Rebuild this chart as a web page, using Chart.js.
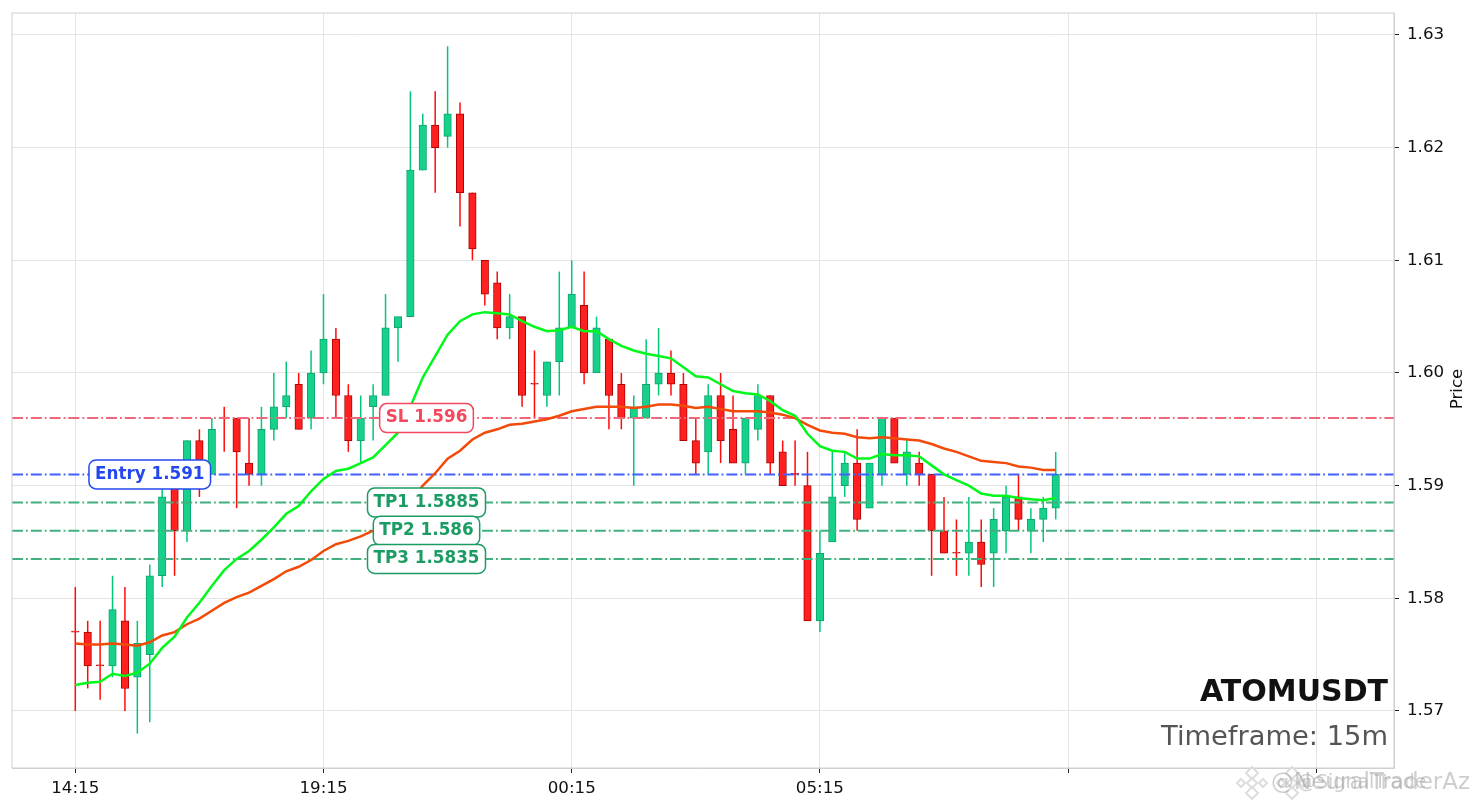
<!DOCTYPE html>
<html>
<head>
<meta charset="utf-8">
<title>ATOMUSDT</title>
<script src="https://cdn.jsdelivr.net/npm/chart.js@4"></script>
<style>
    html, body { margin: 0; padding: 0; background: #fff; }
    #contenedor { width: 1479px; height: 808px; }
</style>
</head>
<body>
<div id="contenedor"><canvas id="grafico"></canvas></div>
<script>
//Datos de las velas (una posicion por vela de 15m)
var opens = [1.577, 1.577, 1.574, 1.574, 1.578, 1.573, 1.575, 1.582, 1.591, 1.586,
    1.594, 1.591, 1.596, 1.596, 1.592, 1.591, 1.595, 1.597, 1.599, 1.596,
    1.600, 1.603, 1.598, 1.594, 1.597, 1.598, 1.604, 1.605, 1.618, 1.622,
    1.621, 1.623, 1.616, 1.610, 1.608, 1.604, 1.605, 1.599, 1.598, 1.601,
    1.604, 1.606, 1.600, 1.603, 1.599, 1.596, 1.596, 1.599, 1.600, 1.599,
    1.594, 1.593, 1.598, 1.595, 1.592, 1.595, 1.598, 1.593, 1.591, 1.590,
    1.578, 1.585, 1.590, 1.592, 1.588, 1.591, 1.596, 1.591, 1.592, 1.591,
    1.586, 1.584, 1.584, 1.585, 1.584, 1.586, 1.589, 1.586, 1.587, 1.588];
var closes = [1.577, 1.574, 1.574, 1.579, 1.572, 1.576, 1.582, 1.589, 1.586, 1.594,
    1.591, 1.595, 1.596, 1.593, 1.591, 1.595, 1.597, 1.598, 1.595, 1.600,
    1.603, 1.598, 1.594, 1.596, 1.598, 1.604, 1.605, 1.618, 1.622, 1.620,
    1.623, 1.616, 1.611, 1.607, 1.604, 1.605, 1.598, 1.599, 1.601, 1.604,
    1.607, 1.600, 1.604, 1.598, 1.596, 1.597, 1.599, 1.600, 1.599, 1.594,
    1.592, 1.598, 1.594, 1.592, 1.596, 1.598, 1.592, 1.590, 1.591, 1.578,
    1.584, 1.589, 1.592, 1.587, 1.592, 1.596, 1.592, 1.593, 1.591, 1.586,
    1.584, 1.584, 1.585, 1.583, 1.587, 1.589, 1.587, 1.587, 1.588, 1.591];
var highs = [1.581, 1.578, 1.578, 1.582, 1.581, 1.578, 1.583, 1.590, 1.591, 1.594,
    1.595, 1.596, 1.597, 1.596, 1.596, 1.597, 1.600, 1.601, 1.600, 1.602,
    1.607, 1.604, 1.599, 1.598, 1.599, 1.607, 1.605, 1.625, 1.623, 1.625,
    1.629, 1.624, 1.616, 1.610, 1.609, 1.607, 1.605, 1.602, 1.601, 1.609,
    1.610, 1.609, 1.605, 1.603, 1.600, 1.598, 1.603, 1.604, 1.602, 1.600,
    1.596, 1.599, 1.600, 1.598, 1.596, 1.599, 1.598, 1.594, 1.594, 1.593,
    1.586, 1.593, 1.593, 1.595, 1.592, 1.596, 1.596, 1.594, 1.593, 1.591,
    1.589, 1.587, 1.589, 1.587, 1.588, 1.590, 1.591, 1.588, 1.589, 1.593];
var lows = [1.570, 1.572, 1.571, 1.573, 1.570, 1.568, 1.569, 1.581, 1.582, 1.585,
    1.589, 1.591, 1.593, 1.588, 1.590, 1.590, 1.594, 1.596, 1.595, 1.595,
    1.599, 1.596, 1.593, 1.592, 1.594, 1.598, 1.601, 1.605, 1.618, 1.616,
    1.620, 1.613, 1.610, 1.606, 1.603, 1.603, 1.597, 1.596, 1.597, 1.598,
    1.604, 1.599, 1.600, 1.595, 1.595, 1.590, 1.596, 1.598, 1.598, 1.594,
    1.591, 1.591, 1.592, 1.592, 1.591, 1.594, 1.591, 1.590, 1.590, 1.578,
    1.577, 1.585, 1.589, 1.586, 1.588, 1.590, 1.592, 1.590, 1.590, 1.582,
    1.584, 1.582, 1.582, 1.581, 1.581, 1.584, 1.586, 1.584, 1.585, 1.587];

//Medias moviles
var mediaRapida = [1.5723, 1.5725, 1.5726, 1.5733, 1.5731, 1.5734, 1.5742, 1.5756, 1.5766, 1.5783,
    1.5796, 1.5811, 1.5825, 1.5835, 1.5842, 1.5852, 1.5863, 1.5875, 1.5882, 1.5895,
    1.5906, 1.5913, 1.5915, 1.5920, 1.5925, 1.5936, 1.5947, 1.5970, 1.5996, 1.6015,
    1.6034, 1.6046, 1.6052, 1.6054, 1.6053, 1.6052, 1.6046, 1.6041, 1.6037, 1.6038,
    1.6041, 1.6037, 1.6037, 1.6030, 1.6024, 1.6020, 1.6017, 1.6015, 1.6013, 1.6005,
    1.5997, 1.5996, 1.5990, 1.5984, 1.5982, 1.5981, 1.5975, 1.5967, 1.5962, 1.5946,
    1.5935, 1.5931, 1.5930, 1.5924, 1.5924, 1.5928, 1.5927, 1.5927, 1.5926, 1.5918,
    1.5910, 1.5905, 1.5900, 1.5893, 1.5891, 1.5891, 1.5889, 1.5888, 1.5887, 1.5889];
var mediaLenta = [1.5760, 1.5759, 1.5759, 1.5760, 1.5759, 1.5758, 1.5761, 1.5767, 1.5770, 1.5777,
    1.5782, 1.5789, 1.5796, 1.5801, 1.5805, 1.5811, 1.5817, 1.5824, 1.5828, 1.5834,
    1.5842, 1.5848, 1.5851, 1.5855, 1.5860, 1.5866, 1.5874, 1.5886, 1.5900, 1.5911,
    1.5924, 1.5931, 1.5941, 1.5947, 1.5950, 1.5954, 1.5955, 1.5957, 1.5959, 1.5962,
    1.5966, 1.5968, 1.5970, 1.5970, 1.5970, 1.5969, 1.5970, 1.5972, 1.5972, 1.5971,
    1.5969, 1.5970, 1.5968, 1.5966, 1.5966, 1.5966, 1.5965, 1.5963, 1.5960, 1.5954,
    1.5949, 1.5947, 1.5946, 1.5943, 1.5942, 1.5943, 1.5942, 1.5941, 1.5940, 1.5937,
    1.5933, 1.5930, 1.5926, 1.5922, 1.5921, 1.5920, 1.5917, 1.5916, 1.5914, 1.5914];

//Niveles de la operacion
var nombresNivel = ['SL', 'Entry', 'TP1', 'TP2', 'TP3'];
var valoresNivel = [1.596, 1.591, 1.5885, 1.586, 1.5835];
var posicionEtiqueta = [28.3, 6.0, 28.3, 28.3, 28.3];
var coloresNivel = ['#f0667a', '#4060ff', '#41b07e', '#41b07e', '#41b07e'];
var coloresTexto = ['#f4485f', '#2448f0', '#1a9c62', '#1a9c62', '#1a9c62'];

//Ejes
var ticksX = [0, 20, 40, 60, 80, 100];
var etiquetasX = ['14:15', '19:15', '00:15', '05:15', '', ''];
var ticksY = [1.57, 1.58, 1.59, 1.60, 1.61, 1.62, 1.63];

var fuente = '"DejaVu Sans", sans-serif';
var xMin = -5.1, xMax = 106.26;

function velasCuerpo() {
    return opens.map(function (o, i) { return { x: i, y: [o, closes[i]] }; });
}

function velasMecha() {
    return lows.map(function (l, i) { return { x: i, y: [l, highs[i]] }; });
}

function subeVela(i) {
    return closes[i] > opens[i];
}

function puntos(valores) {
    return valores.map(function (v, i) { return { x: i, y: v }; });
}

function datasetNivel(i) {
    return {
        type: 'line',
        data: [{ x: xMin, y: valoresNivel[i] }, { x: xMax, y: valoresNivel[i] }],
        borderColor: coloresNivel[i],
        borderWidth: 2,
        borderDash: [11, 3, 1.8, 3],
        pointRadius: 0,
        tension: 0,
        order: 3
    };
}

function etiquetaRedondeada(ctx, cx, cy, texto, color) {
    ctx.font = 'bold 16.8px ' + fuente;
    var ancho = ctx.measureText(texto).width + 12;
    var alto = 29;
    ctx.beginPath();
    ctx.roundRect(cx - ancho / 2, cy - alto / 2, ancho, alto, 7);
    ctx.fillStyle = '#ffffff';
    ctx.fill();
    ctx.lineWidth = 1.5;
    ctx.strokeStyle = color;
    ctx.stroke();
    ctx.fillStyle = color;
    ctx.textAlign = 'center';
    ctx.textBaseline = 'middle';
    ctx.fillText(texto, cx, cy);
}

function logoMarca(ctx, cx, cy) {
    var offs = [[0, 0, 5], [-11, 0, 4], [11, 0, 4], [0, -10, 6], [0, 10, 6]];
    ctx.strokeStyle = '#dddddd';
    ctx.lineWidth = 2;
    offs.forEach(function (o) {
        ctx.beginPath();
        ctx.moveTo(cx + o[0], cy + o[1] - o[2]);
        ctx.lineTo(cx + o[0] + o[2], cy + o[1]);
        ctx.lineTo(cx + o[0], cy + o[1] + o[2]);
        ctx.lineTo(cx + o[0] - o[2], cy + o[1]);
        ctx.closePath();
        ctx.stroke();
    });
}

//Marco, etiquetas de niveles y textos sueltos
var adornos = {
    id: 'adornos',
    afterDatasetsDraw: function (chart) {
        var ctx = chart.ctx;
        var area = chart.chartArea;
        var x = chart.scales.x;
        var y = chart.scales.y;

        ctx.save();
        ctx.strokeStyle = '#cfcfcf';
        ctx.lineWidth = 1;
        ctx.strokeRect(area.left, area.top, area.right - area.left, area.bottom - area.top);

        //TP1 primero para que TP2 y TP3 queden encima, como en el original
        for (var i = 0; i < nombresNivel.length; i++) {
            etiquetaRedondeada(ctx, x.getPixelForValue(posicionEtiqueta[i]), y.getPixelForValue(valoresNivel[i]),
                nombresNivel[i] + ' ' + valoresNivel[i], coloresTexto[i]);
        }

        ctx.textAlign = 'right';
        ctx.textBaseline = 'middle';
        ctx.font = 'bold 30px ' + fuente;
        ctx.fillStyle = '#111111';
        ctx.fillText('ATOMUSDT', area.right - 6, 693.5);
        ctx.font = '27.3px ' + fuente;
        ctx.fillStyle = '#555555';
        ctx.fillText('Timeframe: 15m', area.right - 6, 737.5);

        ctx.save();
        ctx.translate(1458, 389);
        ctx.rotate(-Math.PI / 2);
        ctx.textAlign = 'center';
        ctx.font = '16.7px ' + fuente;
        ctx.fillStyle = '#111111';
        ctx.fillText('Price', 0, 0);
        ctx.restore();

        //Marca de agua
        logoMarca(ctx, 1252, 783);
        logoMarca(ctx, 1292, 783);
        ctx.textAlign = 'left';
        ctx.font = '23px ' + fuente;
        ctx.fillStyle = 'rgba(165,165,165,0.55)';
        ctx.fillText('@NeuralTraderAz', 1271, 783);
        ctx.font = '19px ' + fuente;
        ctx.fillText('@SignalTrade', 1297, 783);
        ctx.restore();
    }
};

function crearGrafico() {
    var ctx = document.getElementById('grafico').getContext('2d');

    var datasets = [
        {
            data: velasMecha(),
            barThickness: 1.5,
            borderWidth: 0,
            inflateAmount: 0,
            backgroundColor: function (c) { return subeVela(c.dataIndex) ? '#00c878' : '#ff0a0a'; },
            order: 6
        },
        {
            data: velasCuerpo(),
            barThickness: 7.5,
            minBarLength: 1,
            borderWidth: 1,
            borderSkipped: false,
            backgroundColor: function (c) { return subeVela(c.dataIndex) ? '#16d18a' : '#ff2020'; },
            borderColor: function (c) { return subeVela(c.dataIndex) ? '#0ca56d' : '#b00000'; },
            order: 5
        },
        { type: 'line', data: puntos(mediaLenta), borderColor: '#f24a08', borderWidth: 2.5, pointRadius: 0, tension: 0, order: 2 },
        { type: 'line', data: puntos(mediaRapida), borderColor: '#00f81a', borderWidth: 2.5, pointRadius: 0, tension: 0, order: 1 }
    ];
    valoresNivel.forEach(function (v, i) { datasets.push(datasetNivel(i)); });

    return new Chart(ctx, {
        type: 'bar',
        data: { datasets: datasets },
        plugins: [adornos],
        options: {
            responsive: true,
            maintainAspectRatio: false,
            animation: false,
            layout: { padding: { left: 12, top: 13, right: 0, bottom: 0 } },
            plugins: { legend: { display: false }, tooltip: { enabled: false } },
            datasets: { bar: { grouped: false } },
            scales: {
                x: {
                    type: 'linear',
                    min: xMin,
                    max: xMax,
                    offset: false,
                    grid: { offset: false, color: '#e4e4e4', tickColor: '#222', tickLength: 5, tickWidth: 1 },
                    border: { color: '#cfcfcf' },
                    afterBuildTicks: function (eje) {
                        eje.ticks = ticksX.map(function (v) { return { value: v }; });
                    },
                    afterFit: function (eje) { eje.height = 40; },
                    ticks: {
                        maxRotation: 0,
                        autoSkip: false,
                        padding: 6,
                        color: '#111',
                        font: { family: fuente, size: 16.7 },
                        callback: function (valor) { return etiquetasX[ticksX.indexOf(valor)]; }
                    }
                },
                y: {
                    position: 'right',
                    min: 1.56494,
                    max: 1.63195,
                    grid: { color: '#e4e4e4', tickColor: '#222', tickLength: 5, tickWidth: 1 },
                    border: { color: '#cfcfcf' },
                    afterBuildTicks: function (eje) {
                        eje.ticks = ticksY.map(function (v) { return { value: v }; });
                    },
                    afterFit: function (eje) {
                        eje.width = 85;
                        eje.paddingTop = 0;
                        eje.paddingBottom = 0;
                    },
                    ticks: {
                        padding: 8,
                        color: '#111',
                        font: { family: fuente, size: 16.7 },
                        callback: function (valor) { return valor.toFixed(2); }
                    }
                }
            }
        }
    });
}

crearGrafico();
</script>
</body>
</html>
